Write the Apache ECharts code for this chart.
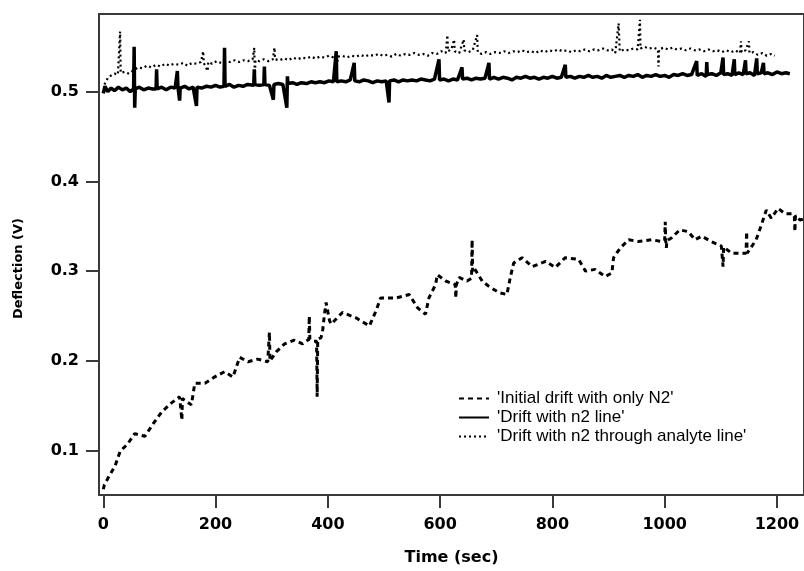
<!DOCTYPE html>
<html>
<head>
<meta charset="utf-8">
<script src="https://cdn.jsdelivr.net/npm/echarts@6/dist/echarts.min.js"></script>
<style>html,body{margin:0;padding:0;background:#fff}#c{width:804px;height:571px}</style>
</head>
<body>
<div id="c"></div>
<script>
const seriesNames = ["'Initial drift with only N2'", "'Drift with n2 line'", "'Drift with n2 through analyte line'"];
const xTicks = [0, 200, 400, 600, 800, 1000, 1200];
const xTickLabels = ['0', '200', '400', '600', '800', '1000', '1200'];
const yTicks = [0.1, 0.2, 0.3, 0.4, 0.5];
const yTickLabels = ['0.1', '0.2', '0.3', '0.4', '0.5'];

// Series 1: initial drift (dashed)
const t1 = [0,2,9,21,30,44,56,74,89,104,121,136,140,141,157,163,181,198,216,231,243,258,275,293,296,297,308,323,340,355,366,367,368,375,380,381,382,388,391,394,397,403,406,426,450,474,486,494,521,545,560,574,580,583,592,595,610,627,628,629,634,648,656,657,658,660,675,687,705,719,725,731,746,764,788,805,823,847,859,876,894,906,909,921,936,953,977,995,1000,1001,1002,1003,1004,1012,1027,1042,1054,1066,1083,1101,1103,1104,1105,1119,1137,1145,1146,1147,1149,1163,1172,1181,1190,1202,1214,1226,1231,1232,1233,1241,1248];
const y1 = [0.057,0.062,0.070,0.083,0.099,0.108,0.119,0.116,0.130,0.143,0.153,0.160,0.134,0.158,0.151,0.175,0.175,0.182,0.188,0.182,0.204,0.199,0.202,0.199,0.232,0.200,0.210,0.219,0.223,0.219,0.224,0.250,0.224,0.222,0.222,0.160,0.224,0.226,0.235,0.252,0.265,0.245,0.241,0.254,0.248,0.239,0.256,0.270,0.270,0.274,0.259,0.252,0.270,0.274,0.285,0.296,0.289,0.285,0.270,0.285,0.293,0.289,0.292,0.335,0.300,0.304,0.289,0.283,0.276,0.274,0.293,0.309,0.315,0.305,0.311,0.304,0.315,0.313,0.300,0.302,0.294,0.298,0.315,0.326,0.335,0.333,0.335,0.333,0.334,0.355,0.334,0.326,0.334,0.337,0.346,0.344,0.335,0.339,0.333,0.328,0.328,0.305,0.327,0.320,0.320,0.320,0.344,0.320,0.318,0.335,0.351,0.368,0.359,0.370,0.364,0.364,0.362,0.344,0.362,0.357,0.358];

// Series 2: drift with n2 line (solid)
const t2 = [0,3,8,14,20,27,34,41,48,54,55,56,57,64,72,80,88,94,95,96,104,112,120,128,131,132,133,136,137,145,153,160,166,167,175,184,192,200,208,215,216,217,225,233,241,249,257,268,269,270,278,286,287,288,296,303,304,312,320,327,328,329,337,345,353,362,370,378,386,394,402,410,415,416,424,432,440,447,448,456,464,472,480,488,496,504,509,510,518,526,534,542,550,558,566,574,582,590,598,599,607,615,623,631,639,640,648,656,664,672,680,687,688,696,704,712,720,728,736,744,752,760,768,776,784,792,800,808,816,823,824,832,840,848,856,864,872,880,888,896,904,912,920,928,936,944,952,960,968,976,984,992,1000,1008,1016,1024,1032,1040,1048,1057,1058,1066,1074,1075,1076,1084,1092,1100,1104,1105,1112,1120,1124,1125,1132,1140,1144,1145,1152,1160,1164,1165,1172,1176,1177,1184,1192,1200,1208,1216,1223];
const y2 = [0.498,0.506,0.500,0.504,0.501,0.505,0.502,0.504,0.500,0.503,0.550,0.482,0.503,0.505,0.502,0.504,0.503,0.503,0.525,0.503,0.505,0.502,0.505,0.504,0.504,0.523,0.505,0.490,0.504,0.506,0.503,0.505,0.484,0.505,0.504,0.506,0.505,0.507,0.505,0.506,0.549,0.506,0.508,0.505,0.507,0.506,0.508,0.507,0.525,0.508,0.507,0.508,0.528,0.508,0.507,0.491,0.508,0.509,0.508,0.482,0.517,0.509,0.510,0.508,0.510,0.509,0.511,0.510,0.511,0.510,0.512,0.511,0.545,0.511,0.512,0.511,0.513,0.532,0.512,0.511,0.513,0.512,0.510,0.512,0.511,0.512,0.488,0.512,0.513,0.511,0.513,0.512,0.513,0.512,0.514,0.513,0.512,0.514,0.536,0.513,0.514,0.512,0.514,0.513,0.527,0.514,0.515,0.513,0.515,0.514,0.515,0.532,0.514,0.516,0.514,0.516,0.515,0.513,0.516,0.515,0.517,0.515,0.516,0.514,0.516,0.515,0.517,0.515,0.516,0.530,0.516,0.517,0.515,0.517,0.516,0.518,0.516,0.517,0.515,0.518,0.516,0.517,0.518,0.516,0.518,0.517,0.519,0.516,0.518,0.517,0.519,0.517,0.518,0.516,0.519,0.518,0.520,0.518,0.519,0.534,0.518,0.520,0.517,0.533,0.519,0.520,0.518,0.521,0.538,0.519,0.520,0.518,0.536,0.519,0.521,0.519,0.535,0.520,0.521,0.518,0.537,0.520,0.521,0.532,0.520,0.521,0.519,0.522,0.520,0.521,0.520];

// Series 3: drift with n2 through analyte line (dotted)
const t3 = [2,8,14,20,26,29,30,31,38,46,54,62,70,78,86,94,102,110,118,126,134,142,150,158,166,174,178,179,186,187,194,202,210,218,226,234,242,250,258,266,269,270,271,278,286,294,302,305,306,314,322,330,338,346,354,362,370,378,386,394,402,410,417,418,426,434,442,450,458,466,474,482,490,498,506,514,522,530,538,546,554,562,570,578,586,594,602,610,613,614,620,625,626,634,642,643,650,658,666,667,674,682,690,698,706,714,722,730,738,746,754,762,770,778,786,794,802,810,818,826,834,842,850,858,866,874,882,890,898,906,912,918,920,928,936,944,952,956,957,964,972,980,988,989,990,998,1006,1014,1022,1030,1038,1046,1054,1062,1070,1078,1086,1094,1102,1110,1118,1126,1134,1136,1137,1144,1150,1151,1158,1166,1174,1182,1190,1196];
const y3 = [0.508,0.515,0.518,0.520,0.519,0.521,0.567,0.521,0.522,0.520,0.524,0.527,0.526,0.529,0.527,0.530,0.528,0.531,0.529,0.531,0.530,0.532,0.529,0.532,0.531,0.533,0.545,0.532,0.523,0.533,0.531,0.534,0.532,0.534,0.533,0.535,0.533,0.535,0.534,0.536,0.549,0.514,0.535,0.534,0.536,0.534,0.536,0.549,0.536,0.535,0.537,0.535,0.538,0.536,0.538,0.537,0.539,0.537,0.539,0.538,0.540,0.538,0.532,0.539,0.540,0.538,0.540,0.539,0.541,0.539,0.541,0.540,0.542,0.540,0.541,0.539,0.542,0.540,0.542,0.541,0.543,0.541,0.542,0.540,0.543,0.542,0.545,0.543,0.563,0.545,0.547,0.558,0.545,0.543,0.558,0.546,0.544,0.546,0.563,0.544,0.542,0.544,0.542,0.544,0.543,0.545,0.543,0.545,0.544,0.546,0.544,0.545,0.543,0.546,0.544,0.546,0.545,0.547,0.545,0.546,0.544,0.546,0.545,0.547,0.545,0.547,0.546,0.548,0.546,0.547,0.543,0.576,0.545,0.547,0.546,0.548,0.547,0.580,0.548,0.550,0.548,0.549,0.547,0.528,0.547,0.549,0.547,0.549,0.547,0.548,0.546,0.548,0.546,0.547,0.545,0.547,0.545,0.546,0.544,0.546,0.544,0.546,0.543,0.556,0.544,0.546,0.556,0.543,0.544,0.541,0.543,0.540,0.542,0.540];

const zip = (t, y) => t.map((v, i) => [v, y[i]]);
const labelFor = (ticks, labels) => v => {
  const i = ticks.findIndex(t => Math.abs(t - v) < 1e-6);
  return i >= 0 ? labels[i] : '';
};

const axisColor = '#3a3a3a';
const tickFont = { fontFamily: 'DejaVu Sans', fontWeight: 'bold', fontSize: 16, color: '#000' };

const chart = echarts.init(document.getElementById('c'), null, { renderer: 'canvas' });
chart.setOption({
  animation: false,
  backgroundColor: '#fff',
  grid: { left: 99, top: 14, right: -2, bottom: 72, show: true, borderColor: axisColor, borderWidth: 2, backgroundColor: 'transparent' },
  xAxis: {
    type: 'value', min: -7.6, max: 1248.2,
    name: 'Time (sec)', nameLocation: 'middle', nameGap: 55,
    nameTextStyle: { fontFamily: 'DejaVu Sans', fontWeight: 'bold', fontSize: 16, color: '#000' },
    axisLine: { show: true, onZero: false, lineStyle: { color: axisColor, width: 2 } },
    axisTick: { show: true, length: 13, inside: false, customValues: xTicks, lineStyle: { color: axisColor, width: 2 } },
    axisLabel: { customValues: xTicks, margin: 22, formatter: labelFor(xTicks, xTickLabels), ...tickFont },
    splitLine: { show: false }
  },
  yAxis: {
    type: 'value', min: 0.0506, max: 0.5865,
    name: 'Deflection (V)', nameLocation: 'middle', nameGap: 74, nameRotate: 90,
    nameTextStyle: { fontFamily: 'DejaVu Sans', fontWeight: 'bold', fontSize: 13, color: '#000', padding: [0, 28, 0, 0] },
    axisLine: { show: true, onZero: false, lineStyle: { color: axisColor, width: 2 } },
    axisTick: { show: true, length: 13, customValues: yTicks, lineStyle: { color: axisColor, width: 2 } },
    axisLabel: { customValues: yTicks, margin: 20, formatter: labelFor(yTicks, yTickLabels), ...tickFont },
    splitLine: { show: false }
  },
  legend: {
    orient: 'vertical', left: 453, top: 385, itemWidth: 30, itemHeight: 14, itemGap: 2,
    data: seriesNames,
    itemStyle: { opacity: 0 },
    textStyle: { fontFamily: 'Liberation Sans', fontSize: 17, color: '#000', padding: [0, 0, 0, 3] }
  },
  series: [
    { name: seriesNames[0], type: 'line', data: zip(t1, y1), symbol: 'none', lineStyle: { color: '#000', width: 3, type: [5, 4] }, itemStyle: { color: '#000' } },
    { name: seriesNames[1], type: 'line', data: zip(t2, y2), symbol: 'none', lineStyle: { color: '#000', width: 3.5, type: 'solid' }, itemStyle: { color: '#000' } },
    { name: seriesNames[2], type: 'line', data: zip(t3, y3), symbol: 'none', lineStyle: { color: '#000', width: 2.2, type: [2, 3] }, itemStyle: { color: '#000' } }
  ]
});
</script>
</body>
</html>
